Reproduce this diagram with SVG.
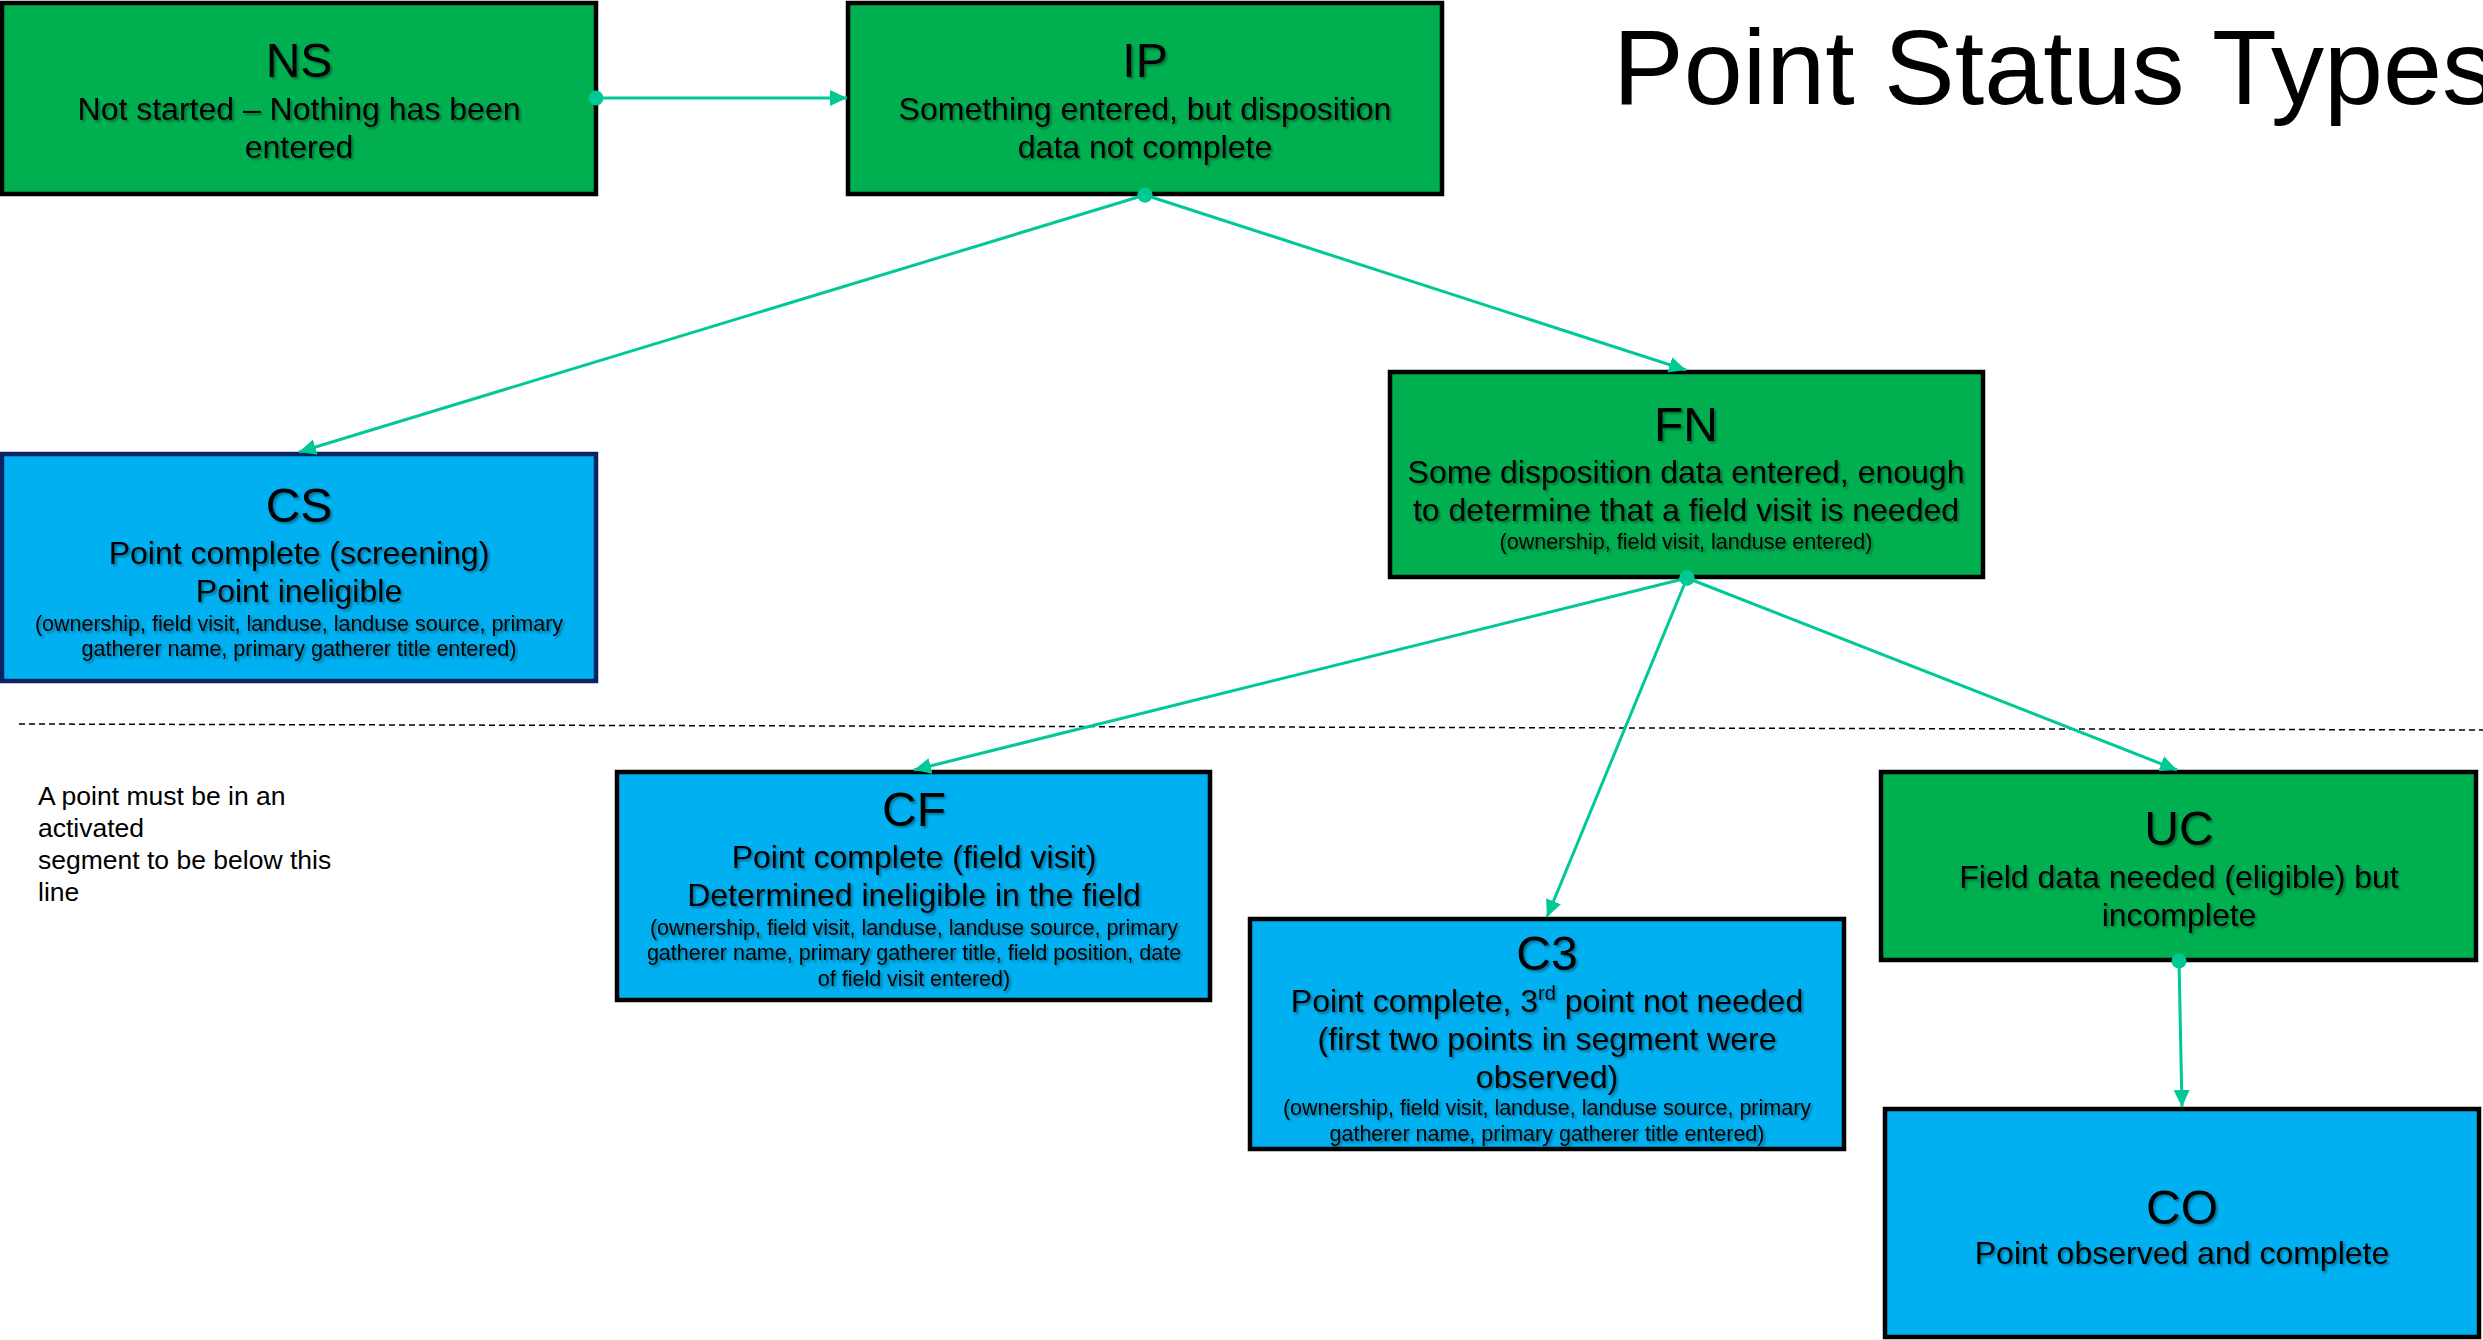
<svg xmlns="http://www.w3.org/2000/svg" width="2483" height="1340" viewBox="0 0 2483 1340">
<defs>
<filter id="sh" x="-5%" y="-20%" width="110%" height="140%">
<feDropShadow dx="2" dy="2" stdDeviation="1.2" flood-color="#000" flood-opacity="0.35"/>
</filter>
<marker id="arr" markerUnits="userSpaceOnUse" markerWidth="18" markerHeight="18" refX="17" refY="8" orient="auto" viewBox="0 0 18 16">
<path d="M0,0 L17,8 L0,16 z" fill="#00C896"/>
</marker>
<marker id="dot" markerUnits="userSpaceOnUse" markerWidth="18" markerHeight="18" refX="9" refY="9" viewBox="0 0 18 18">
<circle cx="9" cy="9" r="7.5" fill="#00C896"/>
</marker>
</defs>
<style>
text{font-family:"Liberation Sans",Arial,sans-serif;fill:#000}
.g{fill:#00B050;stroke:#000;stroke-width:4.5}
.b{fill:#00B0F0;stroke:#000;stroke-width:4.5}
.bn{fill:#00B0F0;stroke:#0A2463;stroke-width:4.5}
.t{font-size:48px;text-anchor:middle}
.d{font-size:32px;text-anchor:middle}
.s{font-size:21.5px;text-anchor:middle}
.tx{filter:url(#sh)}
.c{stroke:#00C896;stroke-width:3;fill:none;marker-start:url(#dot);marker-end:url(#arr)}
.note{font-size:26.5px}
</style>
<rect width="2483" height="1340" fill="#fff"/>
<text x="1613" y="104" font-size="106">Point Status Types</text>
<line x1="19" y1="724" x2="2483" y2="730" stroke="#000" stroke-width="1.5" stroke-dasharray="6 4"/>
<g id="note">
<text class="note" x="38" y="805">A point must be in an</text>
<text class="note" x="38" y="837">activated</text>
<text class="note" x="38" y="869">segment to be below this</text>
<text class="note" x="38" y="901">line</text>
</g>
<g id="NS">
<rect class="g" x="2" y="3" width="594" height="191"/>
<g class="tx">
<text class="t" x="299" y="77">NS</text>
<text class="d" x="299" y="120">Not started – Nothing has been</text>
<text class="d" x="299" y="158">entered</text>
</g>
</g>
<g id="IP">
<rect class="g" x="848" y="3" width="594" height="191"/>
<g class="tx">
<text class="t" x="1145" y="77">IP</text>
<text class="d" x="1145" y="120">Something entered, but disposition</text>
<text class="d" x="1145" y="158">data not complete</text>
</g>
</g>
<g id="CS">
<rect class="bn" x="2" y="454" width="594" height="227"/>
<g class="tx">
<text class="t" x="299" y="522">CS</text>
<text class="d" x="299" y="564">Point complete (screening)</text>
<text class="d" x="299" y="602">Point ineligible</text>
<text class="s" x="299" y="631">(ownership, field visit, landuse, landuse source, primary</text>
<text class="s" x="299" y="656">gatherer name, primary gatherer title entered)</text>
</g>
</g>
<g id="FN">
<rect class="g" x="1390" y="372" width="593" height="205"/>
<g class="tx">
<text class="t" x="1686" y="441">FN</text>
<text class="d" x="1686" y="483">Some disposition data entered, enough</text>
<text class="d" x="1686" y="521">to determine that a field visit is needed</text>
<text class="s" x="1686" y="549">(ownership, field visit, landuse entered)</text>
</g>
</g>
<g id="CF">
<rect class="b" x="617" y="772" width="593" height="228"/>
<g class="tx">
<text class="t" x="914" y="826">CF</text>
<text class="d" x="914" y="868">Point complete (field visit)</text>
<text class="d" x="914" y="906">Determined ineligible in the field</text>
<text class="s" x="914" y="935">(ownership, field visit, landuse, landuse source, primary</text>
<text class="s" x="914" y="960">gatherer name, primary gatherer title, field position, date</text>
<text class="s" x="914" y="986">of field visit entered)</text>
</g>
</g>
<g id="C3">
<rect class="b" x="1250" y="919" width="594" height="230"/>
<g class="tx">
<text class="t" x="1547" y="970">C3</text>
<text class="d" x="1547" y="1012">Point complete, 3<tspan font-size="20" dy="-12">rd</tspan><tspan dy="12"> point not needed</tspan></text>
<text class="d" x="1547" y="1050">(first two points in segment were</text>
<text class="d" x="1547" y="1088">observed)</text>
<text class="s" x="1547" y="1115">(ownership, field visit, landuse, landuse source, primary</text>
<text class="s" x="1547" y="1141">gatherer name, primary gatherer title entered)</text>
</g>
</g>
<g id="UC">
<rect class="g" x="1881" y="772" width="595" height="188"/>
<g class="tx">
<text class="t" x="2179" y="845">UC</text>
<text class="d" x="2179" y="888">Field data needed (eligible) but</text>
<text class="d" x="2179" y="926">incomplete</text>
</g>
</g>
<g id="CO">
<rect class="b" x="1885" y="1109" width="594" height="228"/>
<g class="tx">
<text class="t" x="2182" y="1224">CO</text>
<text class="d" x="2182" y="1264">Point observed and complete</text>
</g>
</g>
<g id="connectors">
<line class="c" x1="596" y1="98" x2="847" y2="98"/>
<line class="c" x1="1145" y1="195" x2="299" y2="452"/>
<line class="c" x1="1145" y1="195" x2="1686" y2="370"/>
<line class="c" x1="1687" y1="578" x2="914" y2="770"/>
<line class="c" x1="1687" y1="578" x2="1547" y2="917"/>
<line class="c" x1="1687" y1="578" x2="2177" y2="770"/>
<line class="c" x1="2179" y1="961" x2="2182" y2="1107"/>
</g>
</svg>
